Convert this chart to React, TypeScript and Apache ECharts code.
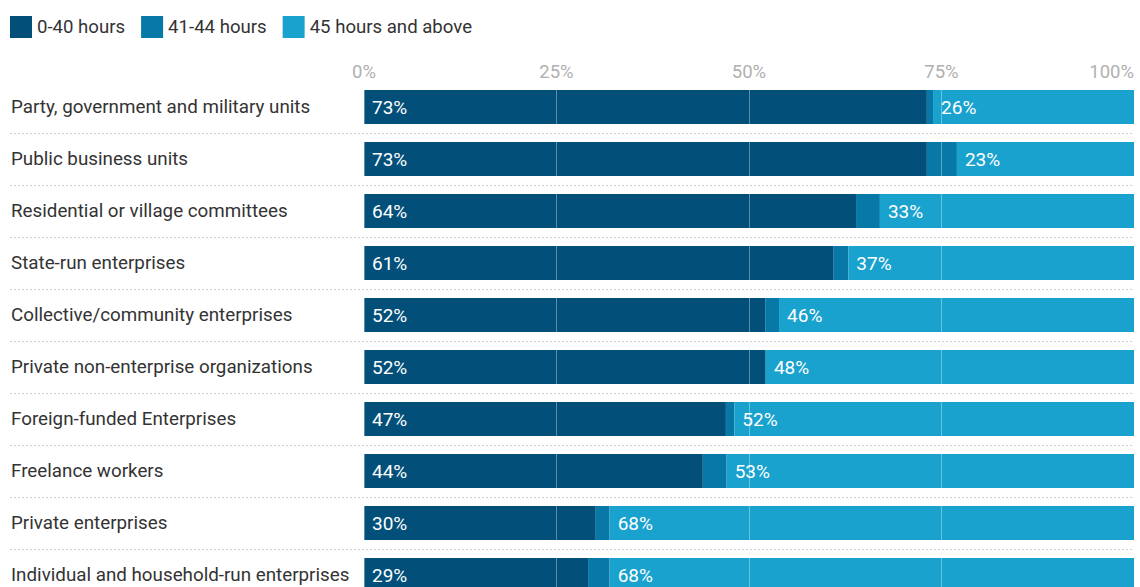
import React, { useEffect, useRef } from "react";
import * as echarts from "echarts";

const categories = [
  "Party, government and military units",
  "Public business units",
  "Residential or village committees",
  "State-run enterprises",
  "Collective/community enterprises",
  "Private non-enterprise organizations",
  "Foreign-funded Enterprises",
  "Freelance workers",
  "Private enterprises",
  "Individual and household-run enterprises",
];
const hours0to40 = [73.1, 73.1, 63.9, 61.0, 52.1, 52.1, 47.0, 44.0, 30.1, 29.1];
const hours41to44 = [0.8, 3.9, 3.1, 1.9, 1.8, 0.1, 1.1, 3.1, 1.8, 2.8];
const hours45plus = [26.1, 23.0, 33.0, 37.1, 46.1, 47.8, 51.9, 52.9, 68.1, 68.1];
const seriesNames = ["0-40 hours", "41-44 hours", "45 hours and above"];
const colors = ["#02507a", "#0879a7", "#1aa2cf"];
const xTicks = [0, 25, 50, 75, 100];

export default function App() {
  const ref = useRef<HTMLDivElement>(null);
  useEffect(() => {
    document.body.style.margin = "0";
    const chart = echarts.init(ref.current!, null, { renderer: "svg" });
    const font = "Roboto";
    const labelCfg = (show: boolean) => ({
      show,
      position: "insideLeft" as const,
      distance: 8,
      color: "#ffffff",
      fontSize: 19,
      fontFamily: font,
      formatter: (p: any) => Math.round(p.value) + "%",
    });
    const data = [hours0to40, hours41to44, hours45plus];
    chart.setOption({
      animation: false,
      color: colors,
      legend: {
        left: 10,
        top: 16,
        padding: 0,
        itemWidth: 22,
        itemHeight: 22,
        itemGap: 16,
        icon: "rect",
        textStyle: { fontFamily: font, fontSize: 18.6, color: "#333" },
        data: seriesNames,
      },
      grid: [
        { left: 10, right: 6, top: 81, height: 520, outerBoundsMode: "none" },
        { left: 364, right: 6, top: 81, height: 520, outerBoundsMode: "none" },
      ],
      xAxis: [
        { gridIndex: 0, type: "value", show: false, min: 0, max: 100 },
        {
          gridIndex: 1,
          type: "value",
          position: "top",
          min: 0,
          max: 100,
          interval: 25,
          z: 10,
          axisLine: { show: false },
          axisTick: { show: false },
          splitLine: { show: true, lineStyle: { color: "rgba(255,255,255,0.35)", width: 1 } },
          axisLabel: {
            color: "#b0b0b0",
            fontSize: 18.5,
            fontFamily: font,
            margin: 0,
            alignMaxLabel: "right",
            customValues: xTicks,
            formatter: (v: number) => v + "%",
          },
        },
      ],
      yAxis: [
        {
          gridIndex: 0,
          type: "category",
          inverse: true,
          data: categories,
          axisLine: { show: false },
          axisTick: { show: false },
          splitLine: {
            show: true,
            interval: (i: number) => i > 0,
            lineStyle: { color: "#cfcfcf", type: [2, 2], width: 1 },
          },
          axisLabel: {
            inside: true,
            margin: 1,
            align: "left",
            color: "#333",
            fontSize: 18.8,
            fontFamily: font,
          },
        },
        {
          gridIndex: 1,
          type: "category",
          inverse: true,
          data: categories,
          axisLine: { show: false },
          axisTick: { show: false },
          axisLabel: { show: false },
          splitLine: { show: false },
        },
      ],
      series: seriesNames.map((name, i) => ({
        name,
        type: "bar",
        stack: "total",
        xAxisIndex: 1,
        yAxisIndex: 1,
        barWidth: 34,
        data: data[i],
        itemStyle: { color: colors[i] },
        label: labelCfg(i !== 1),
      })),
    });
    return () => chart.dispose();
  }, []);
  return <div ref={ref} style={{ width: 1140, height: 587 }} />;
}
